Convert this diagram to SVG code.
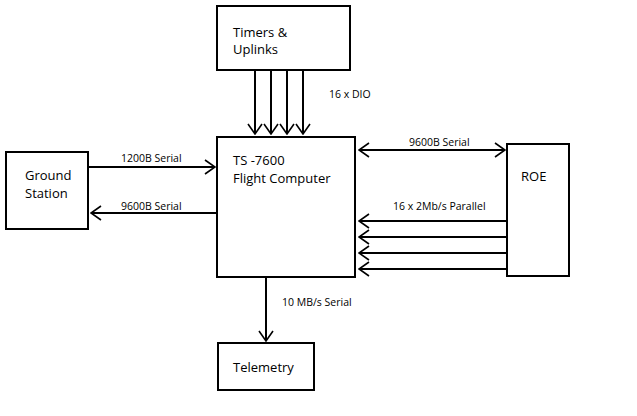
<svg xmlns="http://www.w3.org/2000/svg" width="637" height="416" viewBox="0 0 637 416">
<style>
.box{fill:#fff;stroke:#000;stroke-width:2}
.ln{stroke:#000;stroke-width:2;fill:none}
.t{font-family:"Open Sans","Liberation Sans",sans-serif;font-size:13px;fill:#000}
.l{font-family:"Open Sans","Liberation Sans",sans-serif;font-size:10.5px;fill:#000}
</style>
<defs>
<marker id="ah" viewBox="0 0 12 16" refX="11" refY="8" markerWidth="12" markerHeight="16" markerUnits="userSpaceOnUse" orient="auto-start-reverse">
<path d="M1,1 L11,8 L1,15" fill="none" stroke="#000" stroke-width="1.6"/>
</marker>
</defs>
<rect width="637" height="416" fill="#fff"/>
<g id="connectors">
<line class="ln" x1="255" y1="70" x2="255" y2="134" marker-end="url(#ah)"/>
<line class="ln" x1="271" y1="70" x2="271" y2="134" marker-end="url(#ah)"/>
<line class="ln" x1="287" y1="70" x2="287" y2="134" marker-end="url(#ah)"/>
<line class="ln" x1="303" y1="70" x2="303" y2="134" marker-end="url(#ah)"/>
<line class="ln" x1="88" y1="167" x2="215" y2="167" marker-end="url(#ah)"/>
<line class="ln" x1="217" y1="213" x2="91" y2="213" marker-end="url(#ah)"/>
<line class="ln" x1="359" y1="150" x2="505" y2="150" marker-start="url(#ah)" marker-end="url(#ah)"/>
<line class="ln" x1="507" y1="221" x2="359" y2="221" marker-end="url(#ah)"/>
<line class="ln" x1="507" y1="237" x2="359" y2="237" marker-end="url(#ah)"/>
<line class="ln" x1="507" y1="253" x2="359" y2="253" marker-end="url(#ah)"/>
<line class="ln" x1="507" y1="269" x2="359" y2="269" marker-end="url(#ah)"/>
<line class="ln" x1="266" y1="277" x2="266" y2="341" marker-end="url(#ah)"/>
<text class="l" x="329" y="98">16 x DIO</text>
<text class="l" x="121" y="162">1200B Serial</text>
<text class="l" x="121" y="210">9600B Serial</text>
<text class="l" x="409" y="146">9600B Serial</text>
<text class="l" x="393" y="210">16 x 2Mb/s Parallel</text>
<text class="l" x="282" y="306">10 MB/s Serial</text>
</g>
<g id="timers">
<rect class="box" x="217" y="6" width="133" height="64"/>
<text class="t" x="233" y="37">Timers &amp;</text>
<text class="t" x="233" y="54">Uplinks</text>
</g>
<g id="flight-computer">
<rect class="box" x="217" y="137" width="138" height="140"/>
<text class="t" x="233" y="165">TS -7600</text>
<text class="t" x="233" y="183">Flight Computer</text>
</g>
<g id="ground-station">
<rect class="box" x="6" y="152" width="82" height="77"/>
<text class="t" x="25" y="180">Ground</text>
<text class="t" x="25" y="198">Station</text>
</g>
<g id="roe">
<rect class="box" x="507" y="144" width="62" height="132"/>
<text class="t" x="521" y="181">ROE</text>
</g>
<g id="telemetry">
<rect class="box" x="218" y="343" width="96" height="47"/>
<text class="t" x="233" y="372">Telemetry</text>
</g>
</svg>
